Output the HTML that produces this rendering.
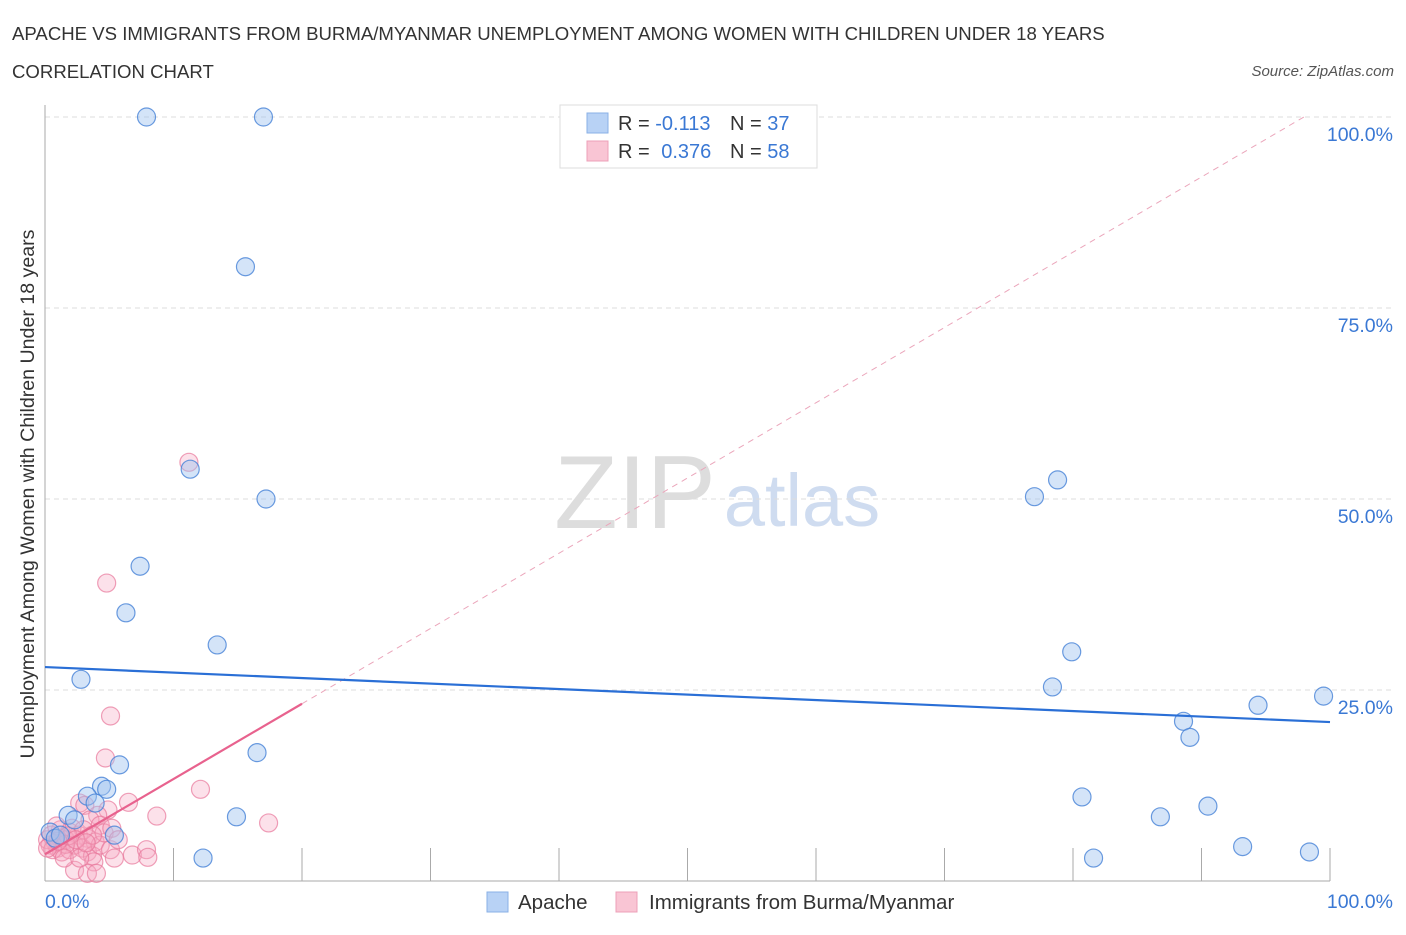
<!DOCTYPE html>
<html><head><meta charset="utf-8"><style>
body{margin:0;background:#fff;font-family:"Liberation Sans",sans-serif;}
svg text{font-family:"Liberation Sans",sans-serif;}
</style></head><body>
<svg id="chart" width="1406" height="930" viewBox="0 0 1406 930">
<text x="12" y="40" font-size="18.6" fill="#333">APACHE VS IMMIGRANTS FROM BURMA/MYANMAR UNEMPLOYMENT AMONG WOMEN WITH CHILDREN UNDER 18 YEARS</text>
<text x="12" y="78" font-size="18.6" fill="#333">CORRELATION CHART</text>
<text x="1394" y="76" font-size="15" fill="#555" font-style="italic" text-anchor="end">Source: ZipAtlas.com</text>
<text x="635" y="528" font-size="104" fill="#ddd" font-family="Liberation Serif" text-anchor="middle">ZIP</text>
<text x="802" y="526" font-size="74" fill="#cfdcf0" text-anchor="middle">atlas</text>
<g id="grid"></g>
<g id="axes"></g>
<g id="marks"></g>
<text transform="translate(34,494) rotate(-90)" font-size="19.6" fill="#333" text-anchor="middle">Unemployment Among Women with Children Under 18 years</text>
<g>
<rect x="560" y="105" width="257" height="63" fill="#fff" stroke="#ddd"/>
<rect x="587" y="113" width="21" height="20" fill="#b8d2f5" stroke="#8ab0e6"/>
<rect x="587" y="141" width="21" height="20" fill="#f9c5d4" stroke="#eda0b8"/>
<text x="618" y="130" font-size="20" fill="#333">R = <tspan fill="#3a78d4">-0.113</tspan></text>
<text x="730" y="130" font-size="20" fill="#333">N = <tspan fill="#3a78d4">37</tspan></text>
<text x="618" y="158" font-size="20" fill="#333">R = <tspan fill="#3a78d4" dx="6">0.376</tspan></text>
<text x="730" y="158" font-size="20" fill="#333">N = <tspan fill="#3a78d4">58</tspan></text>
</g>
<g>
<rect x="487" y="892" width="21" height="20" fill="#b8d2f5" stroke="#8ab0e6"/>
<text x="518" y="909" font-size="20.5" fill="#333">Apache</text>
<rect x="616" y="892" width="21" height="20" fill="#f9c5d4" stroke="#eda0b8"/>
<text x="649" y="909" font-size="20.5" fill="#333">Immigrants from Burma/Myanmar</text>
</g>
</svg>
<script>
const yTicks=[25,50,75,100];
const yTickLabels=["25.0%","50.0%","75.0%","100.0%"];
const apacheX=[7.9,17.0,15.6,11.3,17.2,7.4,6.3,13.4,2.8,16.5,5.8,4.4,4.8,3.3,3.9,1.8,2.3,14.9,5.4,12.3,77.0,78.8,79.9,78.4,88.6,89.1,94.4,99.5,80.7,86.8,90.5,81.6,93.2,98.4,0.4,0.8,1.2];
const apacheY=[100,100,80.4,53.9,50.0,41.2,35.1,30.9,26.4,16.8,15.2,12.4,12.0,11.1,10.2,8.6,8.0,8.4,6.0,3.0,50.3,52.5,30.0,25.4,20.9,18.8,23.0,24.2,11.0,8.4,9.8,3.0,4.5,3.8,6.4,5.6,6.0];
const burmaX=[11.2,4.8,5.1,4.7,12.1,6.5,8.7,17.4,2.7,3.1,4.9,4.1,3.5,4.3,1.2,1.9,2.6,3.3,3.9,1.6,0.8,0.4,0.2,0.5,1.0,1.3,1.9,2.3,2.9,3.3,3.7,4.3,5.1,5.4,6.8,7.9,8.0,3.8,2.3,3.3,4.0,1.2,1.6,2.1,0.9,3.0,4.6,5.2,5.7,0.6,0.2,1.5,2.7,3.7,1.8,1.0,2.4,3.2];
const burmaY=[54.8,39.0,21.6,16.1,12.0,10.3,8.5,7.6,10.2,9.9,9.3,8.6,8.0,7.3,6.7,6.4,6.0,5.6,5.1,5.4,5.0,4.7,5.4,6.0,4.3,3.8,4.1,4.7,4.3,3.8,3.3,4.7,4.1,3.0,3.4,4.1,3.1,2.5,1.4,1.0,1.0,5.6,4.8,6.9,7.2,6.7,6.3,6.9,5.4,4.1,4.3,3.0,3.0,6.0,5.9,5.2,5.4,5.0];
const apacheTrend=[28.0,20.8];
const burmaTrend=[3.5,0.985];
const burmaSolidEnd=20;

const NS="http://www.w3.org/2000/svg";
const X0=45,X1=1330,Y0=881,Y1=117;
const sx=v=>X0+(X1-X0)*v/100;
const sy=v=>Y0-(Y0-Y1)*v/100;
function mk(tag,attrs,parent){const e=document.createElementNS(NS,tag);for(const k in attrs)e.setAttribute(k,attrs[k]);parent.appendChild(e);return e;}
const grid=document.getElementById('grid'),axes=document.getElementById('axes'),marks=document.getElementById('marks');
yTicks.forEach((t,i)=>{
 const l=mk('line',{x1:X0,x2:1395,y1:sy(t),y2:sy(t),stroke:'#ddd','stroke-dasharray':'5,4'},grid);
 
 
 const tx=mk('text',{x:1393,y:sy(t)+24,'font-size':19.5,fill:'#3a78d4','text-anchor':'end'},grid);
 tx.textContent=yTickLabels[i];
 
 
});
const ax=mk('line',{x1:X0,x2:X0,y1:105,y2:Y0,stroke:'#aaa'},axes);


const bx=mk('line',{x1:X0,x2:X1,y1:Y0,y2:Y0,stroke:'#aaa'},axes);


for(let i=1;i<=10;i++){
 const t=mk('line',{x1:sx(i*10),x2:sx(i*10),y1:848,y2:Y0,stroke:'#aaa'},axes);
 
 
}
const xl0=mk('text',{x:45,y:908,'font-size':19.5,fill:'#3a78d4'},axes);xl0.textContent='0.0%';


const xl1=mk('text',{x:1393,y:908,'font-size':19.5,fill:'#3a78d4','text-anchor':'end'},axes);xl1.textContent='100.0%';


const xEnd=(100-burmaTrend[0])/burmaTrend[1];
const pd=mk('line',{x1:sx(burmaSolidEnd),y1:sy(burmaTrend[0]+burmaTrend[1]*burmaSolidEnd),x2:sx(xEnd),y2:sy(100),stroke:'#eba6bb','stroke-dasharray':'6,5'},marks);


burmaX.forEach((x,i)=>{
 const c=mk('circle',{cx:sx(x),cy:sy(burmaY[i]),r:9,fill:'rgba(245,170,195,0.35)',stroke:'rgba(232,120,155,0.7)','stroke-width':1.2},marks);
 
 
});
apacheX.forEach((x,i)=>{
 const c=mk('circle',{cx:sx(x),cy:sy(apacheY[i]),r:9,fill:'rgba(160,195,240,0.45)',stroke:'rgba(70,130,215,0.8)','stroke-width':1.2},marks);
 
 
});
const at=mk('line',{x1:sx(0),y1:sy(apacheTrend[0]),x2:sx(100),y2:sy(apacheTrend[1]),stroke:'#2a6fd6','stroke-width':2.2},marks);


const bt=mk('line',{x1:sx(0),y1:sy(burmaTrend[0]),x2:sx(burmaSolidEnd),y2:sy(burmaTrend[0]+burmaTrend[1]*burmaSolidEnd),stroke:'#e8628e','stroke-width':2.2},marks);


</script>
</body></html>
